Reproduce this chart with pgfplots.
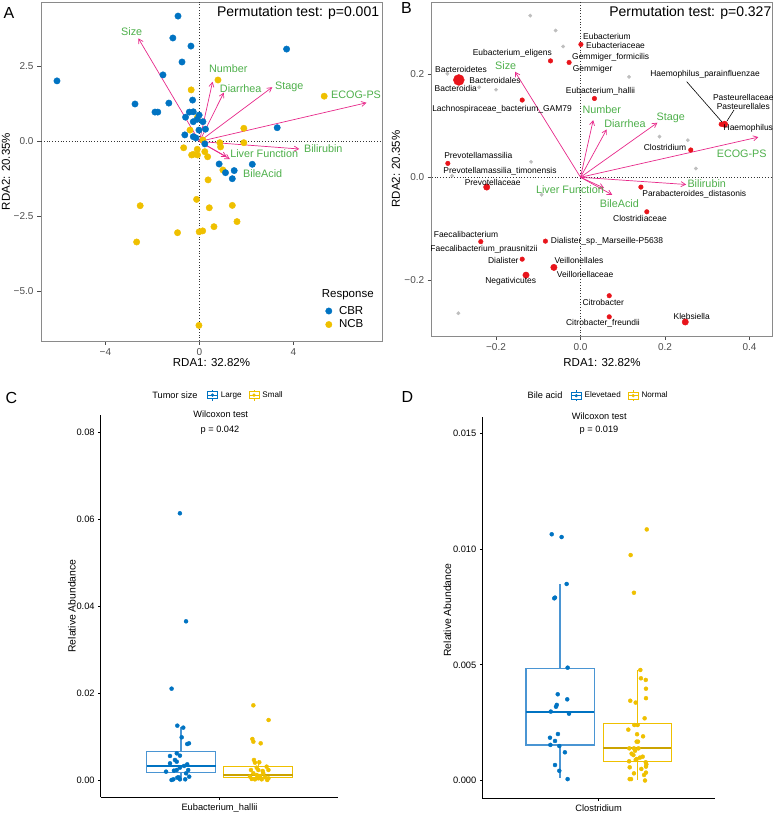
\documentclass[border=0pt]{standalone}
\usepackage{fontspec}
\setmainfont{Liberation Sans}
\usepackage{pgfplots}
\pgfplotsset{compat=1.18}
\usepgfplotslibrary{statistics}
\usetikzlibrary{arrows.meta}

\definecolor{jcoblue}{HTML}{0073C2}
\definecolor{jcoyel}{HTML}{EFC000}
\definecolor{boxblue}{HTML}{4A95D3}
\definecolor{vecpink}{HTML}{E7298A}
\definecolor{vecgreen}{HTML}{4DAF4A}
\definecolor{taxred}{HTML}{E8141B}
\definecolor{taxgray}{HTML}{BEBEBE}
\definecolor{panelframe}{HTML}{8A8A8A}
\definecolor{ticktxt}{HTML}{4D4D4D}

\pgfplotsset{
  rda/.style={
    scale only axis,
    axis line style={draw=panelframe, line width=0.8pt},
    tick style={draw=black!70, line width=0.7pt},
    tick align=outside, major tick length=4pt, tick pos=left,
    tick label style={font=\fontsize{10}{12}\selectfont, text=ticktxt},
  },
  pubr/.style={
    scale only axis, axis lines=left,
    axis line style={-, draw=black, line width=1.1pt},
    tick style={draw=black, line width=0.9pt},
    tick align=outside, major tick length=2.5pt,
    tick label style={font=\fontsize{9.3}{11}\selectfont},
    scaled y ticks=false,
    xmin=0.4, xmax=1.6, xtick={1},
    boxplot/draw direction=y,
    legend columns=2,
    legend style={draw=none, fill=none, inner sep=0pt, nodes={inner sep=1pt},
      font=\fontsize{8.1}{10}\selectfont,
      /tikz/every odd column/.append style={column sep=2pt},
      /tikz/every even column/.append style={column sep=6pt}},
  },
  vec/.style={vecpink, line width=0.7pt, -{Straight Barb[length=4.5pt,width=5pt]}},
}

\begin{document}
\begin{tikzpicture}
\useasboundingbox (0,0) rectangle (774pt,813pt);

% ---------------- A ----------------
\begin{axis}[rda, at={(41pt,472pt)}, anchor=south west, width=341pt, height=339pt,
  xmin=-6.74, xmax=7.77, ymin=-6.65, ymax=4.65,
  xtick={-4,0,4}, xticklabels={−4,0,4},
  ytick={-5,-2.5,0,2.5}, yticklabels={−5.0,−2.5,0.0,2.5},
  legend image code/.code={\draw[mark repeat=2,mark phase=2,#1] plot coordinates {(0pt,0pt) (6pt,0pt) (12pt,0pt)};},
  legend style={draw=none, fill=none, inner sep=0pt, at={(axis description cs:0.834,0.106)}, anchor=north west,
    font=\fontsize{11.5}{13}\selectfont, nodes={inner sep=1pt}, row sep=2pt,
    /tikz/every odd column/.append style={column sep=6pt}},
  legend cell align=left]
\addlegendimage{only marks, mark=*, mark size=3.2pt, jcoblue}
\addlegendentry{CBR}
\addlegendimage{only marks, mark=*, mark size=3.2pt, jcoyel}
\addlegendentry{NCB}
\addplot[forget plot, black!80, dotted, line width=0.8pt] coordinates {(0,-6.65) (0,4.65)};
\addplot[forget plot, black!80, dotted, line width=0.8pt] coordinates {(-6.74,0) (7.77,0)};
% NCB
\addplot[forget plot, only marks, mark=*, mark size=3.2pt, jcoyel] table {
x y
-0.35 1.72
-0.08 0.81
-0.40 0.38
-0.67 -0.21
-0.33 -0.45
-0.08 -0.45
-0.12 -1.93
0.79 2.05
5.31 1.51
1.89 0.44
1.89 -0.04
0.87 -0.04
0.90 -0.18
-0.09 -0.26
-0.26 -0.43
0.35 -0.51
0.23 -0.34
0.37 -1.28
1.00 -0.95
-2.52 -2.14
-2.67 -3.35
-0.93 -3.04
-0.01 -3.01
-0.02 -6.13
0.42 -2.21
1.40 -2.13
1.60 -2.67
0.62 -2.84
0.14 -2.98
0.15 0.05
};
% CBR
\addplot[forget plot, only marks, mark=*, mark size=3.2pt, jcoblue] table {
x y
-6.06 2.02
-0.91 4.18
-1.13 3.45
-0.36 3.18
-0.74 2.65
-1.55 2.22
-2.74 1.25
-1.89 0.98
-1.77 0.98
-1.30 1.28
-0.29 1.38
-0.43 0.98
-0.59 0.81
-0.26 0.66
-0.62 0.22
-0.26 0.16
3.71 3.08
3.31 0.46
2.25 -0.76
1.48 -0.97
1.11 -1.04
1.40 -1.24
0.84 -0.75
0.23 -0.08
0.26 0.41
-0.26 0.99
-0.09 0.74
-0.01 0.88
0.15 0.66
-0.02 0.38
-0.15 0.12
};
\addplot[forget plot, vec, quiver={u=\thisrow{u}, v=\thisrow{v}}] table {
x y u v
0 0 -2.60 3.44
0 0 0.56 1.99
0 0 1.04 1.63
0 0 3.10 1.81
0 0 7.11 1.29
0 0 4.25 -0.25
0 0 1.16 -0.51
0 0 1.30 -0.59
};
\end{axis}

% ---------------- B ----------------
\begin{axis}[rda, at={(431.7pt,477pt)}, anchor=south west, width=340.3pt, height=334pt,
  xmin=-0.3522, xmax=0.4533, ymin=-0.3082, ymax=0.3404,
  xtick={-0.2,0,0.2,0.4}, xticklabels={−0.2,0.0,0.2,0.4},
  ytick={-0.2,0,0.2}, yticklabels={−0.2,0.0,0.2}]
\addplot[black!80, dotted, line width=0.8pt] coordinates {(0,-0.3082) (0,0.3404)};
\addplot[black!80, dotted, line width=0.8pt] coordinates {(-0.3522,0) (0.4533,0)};
\addplot[only marks, mark=*, mark size=1.7pt, taxgray] table {
x y
-0.119 0.314
-0.059 0.285
-0.041 0.254
-0.315 0.201
-0.240 0.175
-0.200 0.170
-0.117 0.030
-0.304 0.003
0.115 0.195
0.187 0.079
0.254 0.072
0.273 0.017
-0.092 -0.034
-0.289 -0.264
};
\addplot[only marks, mark=*, mark size=2.3pt, taxred] table {
x y
-0.071 0.226
-0.027 0.223
0.001 0.258
-0.138 0.150
-0.314 0.027
0.033 0.153
0.261 0.053
0.143 -0.019
0.157 -0.067
0.068 -0.230
0.068 -0.271
-0.236 -0.125
-0.083 -0.124
-0.138 -0.159
0.333 0.103
};
\addplot[only marks, mark=*, mark size=3.2pt, taxred] table {
x y
-0.222 -0.019
0.341 0.103
0.248 -0.281
-0.063 -0.175
-0.129 -0.190
};
\addplot[only marks, mark=*, mark size=5.5pt, taxred] table {
x y
-0.288 0.189
};
\addplot[vec, quiver={u=\thisrow{u}, v=\thisrow{v}}] table {
x y u v
0 0 -0.155 0.205
0 0 0.030 0.111
0 0 0.062 0.093
0 0 0.182 0.106
0 0 0.421 0.078
0 0 0.250 -0.014
0 0 0.056 -0.021
0 0 0.075 -0.034
};
\end{axis}

% ---------------- C ----------------
\begin{axis}[pubr, at={(100.7pt,15.7pt)}, anchor=south west, width=237.6pt, height=382.3pt,
  ymin=-0.00399, ymax=0.0841,
  ytick={0,0.02,0.04,0.06,0.08}, yticklabels={0.00,0.02,0.04,0.06,0.08},
  xticklabels={Eubacterium\_hallii},
  legend style={at={(axis description cs:0.447,1.052)}, anchor=west}]
\addlegendimage{legend image code/.code={
  \draw[jcoblue, line width=0.8pt, fill=white] (0pt,-3.5pt) rectangle (10pt,3.5pt);
  \draw[jcoblue, line width=0.8pt] (0pt,0pt) -- (10pt,0pt) (5pt,3.5pt) -- (5pt,5.5pt) (5pt,-3.5pt) -- (5pt,-5.5pt);
  \fill[jcoblue] (5pt,0pt) circle (1.4pt);}}
\addlegendentry{Large}
\addlegendimage{legend image code/.code={
  \draw[jcoyel, line width=0.8pt, fill=white] (0pt,-3.5pt) rectangle (10pt,3.5pt);
  \draw[jcoyel, line width=0.8pt] (0pt,0pt) -- (10pt,0pt) (5pt,3.5pt) -- (5pt,5.5pt) (5pt,-3.5pt) -- (5pt,-5.5pt);
  \fill[jcoyel] (5pt,0pt) circle (1.4pt);}}
\addlegendentry{Small}
\addplot[forget plot, draw=boxblue, line width=1.2pt,
  boxplot prepared={draw position=0.806, box extend=0.348,
    median=0.00323, upper quartile=0.00661, lower quartile=0.00177,
    upper whisker=0.01229, lower whisker=0.0, whisker extend=0,
    every box/.style={draw=boxblue, line width=1.2pt},
    every whisker/.style={draw=boxblue, line width=1.2pt},
    every median/.style={draw=jcoblue, line width=2.2pt}}] coordinates {};
\addplot[forget plot, draw=jcoyel, line width=1.2pt,
  boxplot prepared={draw position=1.195, box extend=0.35,
    median=0.00115, upper quartile=0.00316, lower quartile=0.00053,
    upper whisker=0.0046, lower whisker=0.0, whisker extend=0,
    every box/.style={draw=jcoyel, line width=1.2pt},
    every whisker/.style={draw=jcoyel, line width=1.2pt},
    every median/.style={draw=jcoyel!85!black, line width=2.2pt}}] coordinates {};
\addplot[forget plot, only marks, mark=*, mark size=2pt, jcoblue] table {
x y
0.800 0.06145
0.831 0.03656
0.758 0.02104
0.787 0.01252
0.817 0.01206
0.809 0.00983
0.837 0.00829
0.846 0.00845
0.784 0.00614
0.750 0.00553
0.800 0.00561
0.775 0.00461
0.784 0.00422
0.750 0.00384
0.821 0.00323
0.837 0.00361
0.800 0.00284
0.842 0.00230
0.784 0.00230
0.770 0.00215
0.730 0.00192
0.831 0.00154
0.758 0.00000
0.767 0.00015
0.794 0.00062
0.800 0.00015
0.827 0.00015
0.847 0.00077
0.787 0.00054
};
\addplot[forget plot, only marks, mark=*, mark size=2pt, jcoyel] table {
x y
1.171 0.01720
1.248 0.01382
1.166 0.00945
1.171 0.00883
1.208 0.00845
1.174 0.00461
1.201 0.00407
1.179 0.00399
1.238 0.00307
1.188 0.00284
1.159 0.00230
1.196 0.00230
1.218 0.00207
1.247 0.00230
1.171 0.00154
1.188 0.00115
1.154 0.00077
1.205 0.00092
1.230 0.00062
1.247 0.00038
1.163 0.00023
1.179 0.00015
1.213 0.00015
1.241 0.00000
1.196 0.00038
1.221 0.00154
};
\end{axis}

% ---------------- D ----------------
% relative abundance here in units of 1e-3 (0.005 -> 5), tick labels show the fractions
\begin{axis}[pubr, at={(482.3pt,14.7pt)}, anchor=south west, width=232.7pt, height=381.6pt,
  ymin=-0.77, ymax=15.735,
  ytick={0,5,10,15}, yticklabels={0.000,0.005,0.010,0.015},
  xticklabels={Clostridium},
  legend style={at={(axis description cs:0.380,1.055)}, anchor=west}]
\addlegendimage{legend image code/.code={
  \draw[jcoblue, line width=0.8pt, fill=white] (0pt,-3.5pt) rectangle (10pt,3.5pt);
  \draw[jcoblue, line width=0.8pt] (0pt,0pt) -- (10pt,0pt) (5pt,3.5pt) -- (5pt,5.5pt) (5pt,-3.5pt) -- (5pt,-5.5pt);
  \fill[jcoblue] (5pt,0pt) circle (1.4pt);}}
\addlegendentry{Elevetaed}
\addlegendimage{legend image code/.code={
  \draw[jcoyel, line width=0.8pt, fill=white] (0pt,-3.5pt) rectangle (10pt,3.5pt);
  \draw[jcoyel, line width=0.8pt] (0pt,0pt) -- (10pt,0pt) (5pt,3.5pt) -- (5pt,5.5pt) (5pt,-3.5pt) -- (5pt,-5.5pt);
  \fill[jcoyel] (5pt,0pt) circle (1.4pt);}}
\addlegendentry{Normal}
\addplot[forget plot, draw=boxblue, line width=1.2pt,
  boxplot prepared={draw position=0.801, box extend=0.352,
    median=2.976, upper quartile=4.853, lower quartile=1.535,
    upper whisker=8.486, lower whisker=0.1, whisker extend=0,
    every box/.style={draw=boxblue, line width=1.2pt},
    every whisker/.style={draw=boxblue, line width=1.2pt},
    every median/.style={draw=jcoblue, line width=2.2pt}}] coordinates {};
\addplot[forget plot, draw=jcoyel, line width=1.2pt,
  boxplot prepared={draw position=1.199, box extend=0.351,
    median=1.393, upper quartile=2.474, lower quartile=0.830,
    upper whisker=4.78, lower whisker=0.0, whisker extend=0,
    every box/.style={draw=jcoyel, line width=1.2pt},
    every whisker/.style={draw=jcoyel, line width=1.2pt},
    every median/.style={draw=jcoyel!85!black, line width=2.2pt}}] coordinates {};
\addplot[forget plot, only marks, mark=*, mark size=2pt, jcoblue] table {
x y
0.758 10.65
0.809 10.53
0.835 8.50
0.771 7.88
0.775 7.91
0.840 4.88
0.789 3.73
0.838 3.51
0.784 3.27
0.780 3.19
0.753 2.98
0.847 2.89
0.790 2.01
0.749 1.85
0.775 1.71
0.751 1.54
0.797 1.49
0.826 1.22
0.775 0.67
0.797 0.42
0.840 0.06
};
\addplot[forget plot, only marks, mark=*, mark size=2pt, jcoyel] table {
x y
1.248 10.86
1.165 9.75
1.182 8.12
1.215 4.78
1.218 4.42
1.243 4.35
1.244 3.97
1.244 3.56
1.163 3.45
1.191 3.37
1.237 2.69
1.184 2.40
1.201 2.40
1.153 2.20
1.198 2.00
1.229 1.91
1.203 1.68
1.196 1.68
1.158 1.39
1.182 1.39
1.205 1.39
1.188 1.29
1.170 1.16
1.179 1.10
1.213 0.99
1.227 1.03
1.196 0.93
1.191 0.89
1.157 0.83
1.243 0.79
1.246 0.70
1.244 0.60
1.160 0.57
1.220 0.50
1.182 0.31
1.244 0.34
1.234 0.24
1.160 0.06
1.167 0.06
1.239 0.00
};
\end{axis}

% ---------------- text, in pixel positions of the figure ----------------
\begin{scope}[x=1pt, y=-1pt, yshift=813pt]
\begin{scope}[font=\fontsize{16}{18}\selectfont]
  \node at (9,13.5) {A};
  \node at (406.5,8.5) {B};
  \node at (11.5,397.5) {C};
  \node at (407.5,397.5) {D};
\end{scope}
\begin{scope}[font=\fontsize{14}{16}\selectfont]
  \node[anchor=east, inner sep=0pt] at (379.3,12.5) {Permutation test: p=0.001};
  \node[anchor=east, inner sep=0pt] at (771.5,13.3) {Permutation test: p=0.327};
\end{scope}
\begin{scope}[font=\fontsize{11.5}{13}\selectfont]
  \node at (211.5,363) {RDA1: 32.82\%};
  \node at (602,363) {RDA1: 32.82\%};
  \node[rotate=90] at (6,171.5) {RDA2: 20.35\%};
  \node[rotate=90] at (396,169) {RDA2: 20.35\%};
  \node[anchor=west, inner sep=0pt] at (321.7,295) {Response};
\end{scope}
\begin{scope}[font=\fontsize{10.8}{12}\selectfont, text=vecgreen, inner sep=0pt]
  \node at (131.7,31.7) {Size};
  \node at (228.3,69) {Number};
  \node at (240.7,88.7) {Diarrhea};
  \node at (289.3,86.7) {Stage};
  \node at (356,95) {ECOG-PS};
  \node at (323.3,149) {Bilirubin};
  \node at (264.2,154) {Liver Function};
  \node at (262.7,174) {BileAcid};
  \node at (505.7,66) {Size};
  \node at (601.7,109.3) {Number};
  \node at (625,123.3) {Diarrhea};
  \node at (670.7,117.7) {Stage};
  \node at (741.7,153.3) {ECOG-PS};
  \node at (706.7,183.3) {Bilirubin};
  \node at (570,190) {Liver Function};
  \node at (619.3,203.3) {BileAcid};
\end{scope}
\begin{scope}
  \clip (431.7,2) rectangle (772,336);
  \draw[black, line width=0.6pt] (686.7,81.7) -- (722,122);
  \draw[black, line width=0.6pt] (734,110) -- (727,121);
  \begin{scope}[font=\fontsize{8.45}{10}\selectfont, inner sep=0pt]
  \node[anchor=west] at (583,36) {Eubacterium};
  \node[anchor=west] at (586,45) {Eubacteriaceae};
  \node[anchor=west] at (572,57.3) {Gemmiger\_formicilis};
  \node[anchor=west] at (572.7,69) {Gemmiger};
  \node at (512.3,53.3) {Eubacterium\_eligens};
  \node at (461,69) {Bacteroidetes};
  \node at (495,80.3) {Bacteroidales};
  \node at (455.8,88.3) {Bacteroidia};
  \node at (502,109) {Lachnospiraceae\_bacterium\_GAM79};
  \node at (600.5,91.7) {Eubacterium\_hallii};
  \node at (705,74) {Haemophilus\_parainfluenzae};
  \node at (743.3,97.3) {Pasteurellaceae};
  \node at (743.3,106) {Pasteurellales};
  \node at (748.3,128.3) {Haemophilus};
  \node at (665,147.3) {Clostridium};
  \node at (478.3,155.7) {Prevotellamassilia};
  \node at (500,171.3) {Prevotellamassilia\_timonensis};
  \node at (492.7,182.7) {Prevotellaceae};
  \node at (694.3,194) {Parabacteroides\_distasonis};
  \node at (640,218.3) {Clostridiaceae};
  \node[anchor=west] at (550.7,241.7) {Dialister\_sp.\_Marseille-P5638};
  \node at (466,234) {Faecalibacterium};
  \node at (484,249.3) {Faecalibacterium\_prausnitzii};
  \node at (503.3,260) {Dialister};
  \node[anchor=west] at (554.3,260) {Veillonellales};
  \node[anchor=west] at (556.7,274) {Veillonellaceae};
  \node at (510.7,281.7) {Negativicutes};
  \node at (603.3,302.3) {Citrobacter};
  \node at (603,323.7) {Citrobacter\_freundii};
  \node at (691.7,316) {Klebsiella};
  \end{scope}
\end{scope}
\begin{scope}[font=\fontsize{9.2}{11}\selectfont]
  \node at (220.7,414.3) {Wilcoxon test};
  \node at (220,430) {p = 0.042};
  \node at (599.3,416.7) {Wilcoxon test};
  \node at (599,430.7) {p = 0.019};
  \node at (175,395) {Tumor size};
  \node at (545,395.7) {Bile acid};
\end{scope}
\begin{scope}[font=\fontsize{10.4}{12}\selectfont]
  \node[rotate=90] at (72,606) {Relative Abundance};
  \node[rotate=90] at (447.5,610) {Relative Abundance};
\end{scope}
\end{scope}
\end{tikzpicture}
\end{document}
